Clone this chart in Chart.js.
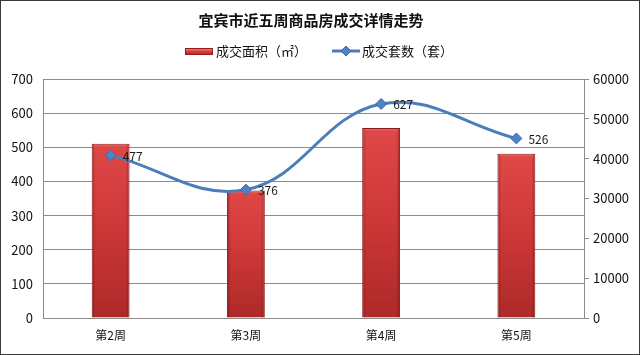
<!DOCTYPE html>
<html><head><meta charset="utf-8">
<script src="https://cdn.jsdelivr.net/npm/chart.js@4"></script>
<style>html,body{margin:0;padding:0;background:#fff}#wrap{width:640px;height:355px;position:relative}</style>
</head><body><div id="wrap"><canvas id="c" width="640" height="355"></canvas></div>
<script>
const chartTitle = '宜宾市近五周商品房成交详情走势';
const categories = ['第2周', '第3周', '第4周', '第5周'];
const areaLabel = '成交面积（㎡）';
const countLabel = '成交套数（套）';
const areaValues = [43750, 32030, 47690, 41240];
const countValues = [477, 376, 627, 526];
const leftAxis = {min: 0, max: 700, step: 100};
const rightAxis = {min: 0, max: 60000, step: 10000};

const FONT = '"Noto Sans CJK SC", "Noto Sans", sans-serif';
const GRID = '#8c8c8c';
const BLUE = '#4a7ebb';

function barGradient(ctx) {
  const chart = ctx.chart;
  const ys = chart.scales && chart.scales.y1;
  if (!chart.chartArea || !ys || ctx.type !== 'data') return '#cc3333';
  const top = ys.getPixelForValue(areaValues[ctx.dataIndex]);
  const bottom = ys.getPixelForValue(0);
  const g = chart.ctx.createLinearGradient(0, top, 0, bottom);
  g.addColorStop(0, '#e04848');
  g.addColorStop(0.5, '#cc3737');
  g.addColorStop(1, '#ad2929');
  return g;
}

const decor = {
  id: 'decor',
  afterDatasetDraw(chart, args) {
    if (args.index !== 0) return;
    const c = chart.ctx;
    const meta = chart.getDatasetMeta(0);
    c.save();
    meta.data.forEach(el => {
      const w = el.width;
      const l = el.x - w / 2;
      const h = el.base - el.y;
      const eg = c.createLinearGradient(l, 0, l + w, 0);
      eg.addColorStop(0, 'rgba(100,10,10,0.45)');
      eg.addColorStop(0.1, 'rgba(100,10,10,0)');
      eg.addColorStop(0.9, 'rgba(100,10,10,0)');
      eg.addColorStop(1, 'rgba(100,10,10,0.45)');
      c.fillStyle = eg;
      c.fillRect(l + 1, el.y + 1, w - 2, h - 1);
      const g = c.createLinearGradient(0, el.y, 0, el.y + 4);
      g.addColorStop(0, 'rgba(245,140,140,0.8)');
      g.addColorStop(1, 'rgba(224,72,72,0)');
      c.fillStyle = g;
      c.fillRect(l + 2, el.y + 1, w - 4, 3);
    });
    c.restore();
  },
  afterDatasetsDraw(chart) {
    const c = chart.ctx;
    const meta = chart.getDatasetMeta(1);
    c.save();
    c.font = '12px ' + FONT;
    c.fillStyle = '#1a1a1a';
    c.textBaseline = 'middle';
    c.textAlign = 'left';
    meta.data.forEach((el, i) => {
      c.fillText(String(countValues[i]), el.x + 12, el.y + 1);
    });
    c.restore();
  },
  afterDraw(chart) {
    const c = chart.ctx;
    c.save();
    c.font = 'bold 15px ' + FONT;
    c.fillStyle = '#111';
    c.textAlign = 'center';
    c.textBaseline = 'middle';
    c.fillText(chartTitle, 311, 20);
    c.font = '13px ' + FONT;
    c.textAlign = 'left';
    const ly = 51;
    const sg = c.createLinearGradient(0, ly - 3, 0, ly + 4);
    sg.addColorStop(0, '#ef8a8a');
    sg.addColorStop(0.5, '#d84040');
    sg.addColorStop(1, '#a82222');
    c.fillStyle = sg;
    c.fillRect(185, ly - 3, 28, 7);
    c.strokeStyle = '#9a1c1c';
    c.lineWidth = 1;
    c.strokeRect(185.5, ly - 2.5, 27, 6);
    c.fillStyle = '#111';
    c.fillText(areaLabel, 216, ly);
    c.strokeStyle = BLUE;
    c.lineWidth = 3;
    c.beginPath();
    c.moveTo(332, ly);
    c.lineTo(360, ly);
    c.stroke();
    c.fillStyle = '#4f83c4';
    c.strokeStyle = '#3c6aa6';
    c.lineWidth = 1;
    c.beginPath();
    c.moveTo(346, ly - 5);
    c.lineTo(351, ly);
    c.lineTo(346, ly + 5);
    c.lineTo(341, ly);
    c.closePath();
    c.fill();
    c.stroke();
    c.fillStyle = '#111';
    c.fillText(countLabel, 362, ly);
    c.strokeStyle = '#3a3a3a';
    c.lineWidth = 1;
    c.strokeRect(0.5, 0.5, 639, 354);
    c.restore();
  }
};

new Chart(document.getElementById('c'), {
  data: {
    labels: categories,
    datasets: [
      {
        type: 'bar',
        label: areaLabel,
        data: areaValues,
        yAxisID: 'y1',
        order: 1,
        backgroundColor: barGradient,
        borderColor: '#8a1a1a',
        borderWidth: 1,
        barPercentage: 0.28,
        categoryPercentage: 1
      },
      {
        type: 'line',
        label: countLabel,
        data: countValues,
        yAxisID: 'y',
        order: 0,
        borderColor: BLUE,
        borderWidth: 3,
        tension: 0.4,
        fill: false,
        pointStyle: 'rectRot',
        pointRadius: 5.5,
        pointBackgroundColor: '#4f83c4',
        pointBorderColor: '#3c6aa6',
        pointBorderWidth: 1
      }
    ]
  },
  options: {
    responsive: false,
    animation: false,
    devicePixelRatio: 1,
    layout: {padding: {top: 79, left: 0, right: 0, bottom: 0}},
    plugins: {
      legend: {display: false},
      title: {display: false},
      tooltip: {enabled: false}
    },
    scales: {
      x: {
        grid: {display: false, drawTicks: false},
        border: {display: true, color: GRID},
        ticks: {padding: 10, color: '#111', font: {family: FONT, size: 12}},
        afterFit(s) { s.height = 37; }
      },
      y: {
        position: 'left',
        min: leftAxis.min, max: leftAxis.max,
        ticks: {stepSize: leftAxis.step, padding: 10, color: '#111', font: {family: FONT, size: 13}, callback: v => String(v)},
        grid: {color: GRID, drawTicks: false},
        border: {color: GRID},
        afterFit(s) { s.width = 43; }
      },
      y1: {
        position: 'right',
        min: rightAxis.min, max: rightAxis.max,
        ticks: {stepSize: rightAxis.step, padding: 4, color: '#111', font: {family: FONT, size: 13}, callback: v => String(v)},
        grid: {drawOnChartArea: false, color: GRID, tickLength: 5},
        border: {color: GRID},
        afterFit(s) { s.width = 56; }
      }
    }
  },
  plugins: [decor]
});
</script>
</body></html>
